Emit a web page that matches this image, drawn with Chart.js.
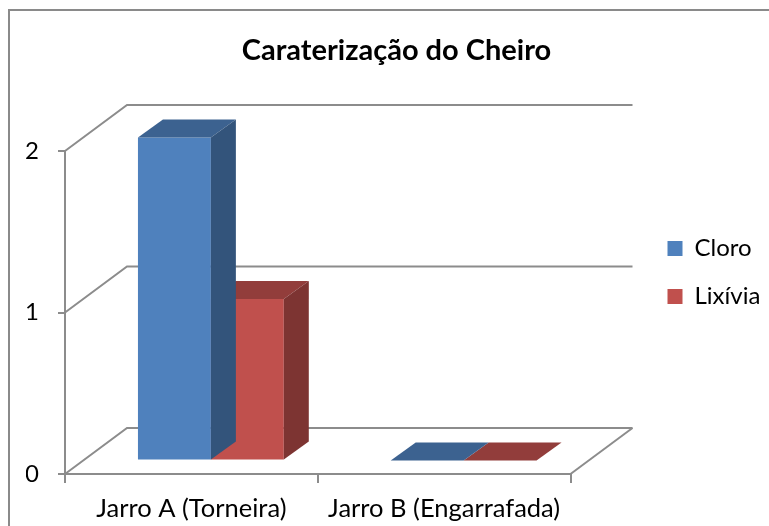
<!DOCTYPE html>
<html><head><meta charset="utf-8">
<script src="https://cdn.jsdelivr.net/npm/chart.js@4/dist/chart.umd.min.js"></script>
<style>html,body{margin:0;padding:0;background:#fff}#wrap{width:769px;height:526px;position:relative}</style>
</head><body><div id="wrap"><canvas id="c" width="769" height="526"></canvas></div>
<script>
const chartTitle = 'Caraterização do Cheiro';
const categories = ['Jarro A (Torneira)', 'Jarro B (Engarrafada)'];
const seriesNames = ['Cloro', 'Lixívia'];
const cloroValues = [2, 0];
const lixiviaValues = [1, 0];
const yMin = 0, yMax = 2, yStep = 1;

const FONT = 'Lato';
const GRID = '#8c8c8c';
const WALL = {dx: 62, dy: -46};
const BAR_POS = {dx: 19.5, dy: -13.5};
const BAR_SIDE = {dx: 25, dy: -18};
const SHADES = [
  {front: '#4F81BD', top: '#3C6290', side: '#33547B'},
  {front: '#C0504D', top: '#923D3B', side: '#7D3432'}
];

const threeD = {
  id: 'threeD',
  beforeDraw(chart) {
    const ctx = chart.ctx;
    ctx.save();
    ctx.strokeStyle = '#8a8a8a';
    ctx.lineWidth = 2;
    ctx.strokeRect(9, 10, 800, 600);
    ctx.restore();
  },
  beforeDatasetsDraw(chart) {
    const {ctx, chartArea: a, scales: {y}} = chart;
    ctx.save();
    ctx.strokeStyle = GRID;
    ctx.lineWidth = 2;
    y.ticks.forEach(t => {
      const py = y.getPixelForValue(t.value);
      ctx.beginPath();
      ctx.moveTo(a.left, py);
      ctx.lineTo(a.left + WALL.dx, py + WALL.dy);
      ctx.lineTo(a.right + WALL.dx, py + WALL.dy);
      ctx.stroke();
    });
    ctx.beginPath();
    ctx.moveTo(a.right, a.bottom);
    ctx.lineTo(a.right + WALL.dx, a.bottom + WALL.dy);
    ctx.stroke();
    ctx.restore();
  },
  beforeDatasetDraw(chart) {
    chart.ctx.save();
    chart.ctx.translate(BAR_POS.dx, BAR_POS.dy);
  },
  afterDatasetDraw(chart, args) {
    const ctx = chart.ctx;
    const sh = SHADES[args.index];
    args.meta.data.forEach(bar => {
      const {x, y, base, width} = bar.getProps(['x', 'y', 'base', 'width'], true);
      const l = x - width / 2, r = x + width / 2;
      const top = Math.min(y, base), bot = Math.max(y, base);
      ctx.fillStyle = sh.top;
      ctx.beginPath();
      ctx.moveTo(l, top);
      ctx.lineTo(l + BAR_SIDE.dx, top + BAR_SIDE.dy);
      ctx.lineTo(r + BAR_SIDE.dx, top + BAR_SIDE.dy);
      ctx.lineTo(r, top);
      ctx.closePath();
      ctx.fill();
      if (bot - top > 0.5) {
        ctx.fillStyle = sh.side;
        ctx.beginPath();
        ctx.moveTo(r, top);
        ctx.lineTo(r + BAR_SIDE.dx, top + BAR_SIDE.dy);
        ctx.lineTo(r + BAR_SIDE.dx, bot + BAR_SIDE.dy);
        ctx.lineTo(r, bot);
        ctx.closePath();
        ctx.fill();
      }
    });
    ctx.restore();
  }
};

new Chart(document.getElementById('c'), {
  type: 'bar',
  data: {
    labels: categories,
    datasets: [
      {label: seriesNames[0], data: cloroValues, backgroundColor: SHADES[0].front, borderWidth: 0, clip: false},
      {label: seriesNames[1], data: lixiviaValues, backgroundColor: SHADES[1].front, borderWidth: 0, clip: false}
    ]
  },
  options: {
    responsive: false,
    animation: false,
    events: [],
    categoryPercentage: 0.577,
    barPercentage: 1,
    layout: {padding: {left: 26, right: 2, top: 19, bottom: 0}},
    scales: {
      x: {
        grid: {offset: true, drawOnChartArea: false, drawTicks: true, tickLength: 9, color: GRID, lineWidth: 2},
        border: {display: true, color: GRID, width: 2},
        ticks: {color: '#000', font: {family: FONT, size: 25.5}, padding: 10.7, maxRotation: 0, autoSkip: false},
        afterFit(s) { s.height = 52; }
      },
      y: {
        min: yMin, max: yMax,
        grid: {drawOnChartArea: false, drawTicks: true, tickLength: 7, color: GRID, lineWidth: 2},
        border: {display: true, color: GRID, width: 2},
        ticks: {stepSize: yStep, color: '#000', font: {family: FONT, size: 24}, padding: 19},
        afterFit(s) { s.width = 39; }
      },
      gap: {
        type: 'linear', position: 'right', display: true,
        grid: {display: false, drawTicks: false},
        border: {display: false},
        ticks: {display: false},
        afterFit(s) { s.width = 73; }
      }
    },
    plugins: {
      title: {
        display: true, text: chartTitle, color: '#000',
        font: {family: FONT, size: 29, weight: 'bold'},
        padding: {top: 14.6, bottom: 82.6}
      },
      legend: {
        position: 'right',
        labels: {color: '#000', font: {family: FONT, size: 24}, boxWidth: 15, boxHeight: 15, padding: 24}
      },
      tooltip: {enabled: false}
    }
  },
  plugins: [threeD]
});
</script>
</body></html>
